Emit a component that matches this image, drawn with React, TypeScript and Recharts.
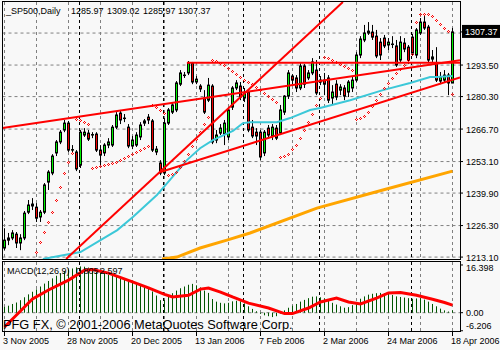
import { Bar, CartesianGrid, ComposedChart, Line, Scatter, XAxis, YAxis } from 'recharts'

// S&P 500 daily, 3 Nov 2005 - 18 Apr 2006 (one entry per trading day)
const opens = [
  1216.9, 1221.1, 1221.1, 1222.7, 1219.0, 1221.1, 1231.9, 1235.3, 1234.0, 1229.9,
  1231.9, 1244.5, 1248.3, 1256.7, 1261.3, 1266.3, 1269.2, 1257.9, 1257.1, 1251.6,
  1264.2, 1265.0, 1264.2, 1264.6, 1257.9, 1256.7, 1260.0, 1260.0, 1267.5, 1273.4,
  1271.3, 1267.5, 1259.6, 1260.0, 1263.4, 1269.2, 1271.7, 1270.1, 1257.1, 1252.5,
  1248.3, 1269.2, 1273.8, 1274.7, 1285.5, 1289.3, 1290.2, 1294.3, 1286.4, 1284.7,
  1279.7, 1278.8, 1284.7, 1262.1, 1265.0, 1264.6, 1263.4, 1275.9, 1283.9, 1284.7,
  1279.7, 1282.2, 1267.5, 1265.4, 1265.4, 1256.7, 1267.1, 1263.8, 1267.1, 1265.0,
  1273.8, 1280.5, 1288.9, 1288.1, 1283.9, 1293.1, 1288.1, 1290.2, 1291.4, 1286.4,
  1287.2, 1288.1, 1279.7, 1285.5, 1283.0, 1283.9, 1282.2, 1283.9, 1287.2, 1297.7,
  1304.0, 1306.9, 1307.3, 1305.6, 1303.1, 1304.8, 1301.9, 1302.3, 1301.5, 1295.6,
  1302.7, 1301.0, 1305.2, 1297.7, 1306.9, 1311.5, 1309.4, 1296.0, 1294.3, 1286.8,
  1287.2, 1289.3, 1285.97,
]
const highs = [
  1225.2, 1223.2, 1224.4, 1223.6, 1222.7, 1232.4, 1237.0, 1237.8, 1235.7, 1232.8,
  1244.1, 1249.5, 1256.2, 1262.1, 1266.3, 1270.5, 1270.1, 1260.0, 1257.9, 1266.3,
  1267.1, 1266.3, 1265.4, 1265.4, 1260.0, 1260.8, 1262.9, 1268.4, 1273.8, 1274.7,
  1273.0, 1268.8, 1263.8, 1265.4, 1269.6, 1270.9, 1273.0, 1270.9, 1259.6, 1253.7,
  1271.3, 1275.5, 1278.0, 1286.8, 1291.4, 1290.6, 1295.2, 1294.8, 1288.9, 1285.5,
  1283.0, 1288.1, 1285.5, 1266.3, 1268.8, 1270.5, 1275.9, 1284.7, 1287.2, 1286.4,
  1283.9, 1283.0, 1270.5, 1267.1, 1266.3, 1266.3, 1268.4, 1268.8, 1268.4, 1276.8,
  1280.9, 1291.4, 1289.7, 1289.3, 1294.3, 1293.9, 1291.4, 1296.4, 1295.6, 1288.9,
  1290.2, 1289.3, 1285.1, 1287.2, 1285.5, 1285.1, 1287.2, 1288.5, 1298.9, 1305.6,
  1310.3, 1311.5, 1310.3, 1308.2, 1304.8, 1306.1, 1304.8, 1305.6, 1304.0, 1305.6,
  1304.8, 1301.9, 1306.5, 1309.0, 1313.2, 1314.0, 1310.3, 1299.8, 1301.0, 1290.6,
  1291.4, 1290.2, 1309.02,
]
const lows = [
  1216.0, 1218.1, 1220.2, 1216.9, 1216.0, 1220.2, 1231.1, 1232.8, 1227.8, 1227.8,
  1231.1, 1241.2, 1247.4, 1255.4, 1260.4, 1265.4, 1257.1, 1256.7, 1249.1, 1250.4,
  1263.4, 1261.7, 1262.9, 1257.1, 1251.2, 1255.4, 1258.7, 1259.2, 1266.7, 1268.8,
  1269.6, 1258.7, 1258.3, 1259.2, 1262.1, 1268.0, 1268.8, 1257.1, 1255.8, 1247.4,
  1247.4, 1268.4, 1273.0, 1273.8, 1284.7, 1288.1, 1289.3, 1285.5, 1285.5, 1282.2,
  1273.0, 1278.0, 1260.4, 1260.8, 1264.2, 1260.0, 1262.1, 1274.7, 1283.0, 1278.8,
  1278.0, 1265.4, 1262.9, 1260.0, 1253.7, 1255.4, 1262.9, 1262.1, 1262.1, 1264.2,
  1272.6, 1279.3, 1285.5, 1282.2, 1283.0, 1283.9, 1287.2, 1289.3, 1280.9, 1285.1,
  1280.9, 1277.6, 1276.8, 1278.8, 1280.9, 1278.8, 1280.1, 1282.2, 1286.4, 1296.4,
  1303.1, 1306.1, 1304.0, 1296.4, 1295.6, 1300.6, 1299.8, 1300.6, 1292.7, 1294.8,
  1298.9, 1293.9, 1297.3, 1296.4, 1306.1, 1308.2, 1294.3, 1294.8, 1286.4, 1285.5,
  1286.4, 1280.9, 1285.97,
]
const closes = [
  1220.2, 1220.2, 1223.2, 1219.0, 1221.1, 1231.5, 1234.9, 1234.5, 1229.4, 1231.9,
  1243.3, 1248.7, 1255.4, 1261.3, 1265.4, 1269.2, 1257.9, 1258.1, 1250.0, 1265.4,
  1265.4, 1262.5, 1264.4, 1257.9, 1255.8, 1260.0, 1261.3, 1267.5, 1272.6, 1270.5,
  1271.1, 1259.6, 1262.1, 1264.2, 1268.4, 1270.1, 1270.5, 1257.9, 1258.3, 1248.3,
  1269.2, 1274.7, 1276.8, 1286.0, 1290.2, 1289.1, 1294.3, 1286.4, 1287.6, 1283.5,
  1273.8, 1285.1, 1261.3, 1264.2, 1267.1, 1269.2, 1274.7, 1283.9, 1286.0, 1280.1,
  1281.8, 1266.3, 1263.8, 1263.8, 1255.0, 1265.4, 1264.2, 1267.5, 1262.9, 1274.7,
  1280.5, 1290.2, 1287.2, 1283.9, 1293.1, 1285.5, 1290.2, 1294.8, 1281.8, 1287.2,
  1285.5, 1278.8, 1282.2, 1280.1, 1284.3, 1280.5, 1286.4, 1287.2, 1297.7, 1304.4,
  1306.9, 1307.7, 1305.2, 1297.3, 1297.7, 1301.5, 1303.1, 1302.1, 1293.5, 1303.1,
  1300.2, 1295.6, 1298.5, 1308.2, 1311.5, 1309.0, 1295.6, 1296.9, 1287.2, 1288.5,
  1289.3, 1286.0, 1307.37,
]
// Parabolic SAR (null = below the visible range)
const sar = [
  null, null, null, null, null, null, null, null, 1214.8, 1219.0,
  1223.2, 1227.3, 1231.5, 1236.6, 1242.0, 1247.9, 1252.5, 1256.2, 1270.5, 1270.1,
  1269.2, 1268.4, 1250.0, 1250.4, 1250.8, 1251.2, 1251.6, 1252.0, 1252.5, 1253.3,
  1254.1, 1255.0, 1255.8, 1256.7, 1257.5, 1258.3, 1259.2, 1276.3, 1275.5, 1274.2,
  1273.0, 1247.0, 1247.4, 1248.3, 1250.4, 1252.9, 1255.8, 1259.2, 1262.1, 1265.0,
  1268.4, 1271.3, 1295.2, 1294.8, 1293.9, 1293.1, 1291.8, 1290.6, 1289.3, 1288.1,
  1286.8, 1286.0, 1285.1, 1283.9, 1282.6, 1281.4, 1280.1, 1278.8, 1277.6, 1254.6,
  1255.0, 1255.8, 1257.9, 1259.6, 1262.5, 1265.9, 1269.2, 1272.6, 1276.3, 1279.3,
  1296.4, 1296.0, 1295.2, 1294.3, 1293.5, 1292.7, 1291.8, 1291.0, 1270.5, 1270.9,
  1271.7, 1273.4, 1275.9, 1278.4, 1280.9, 1283.5, 1285.5, 1287.6, 1289.7, 1291.4,
  1293.1, 1295.2, 1297.7, 1311.1, 1314.4, 1314.4, 1314.4, 1313.6, 1311.9, 1310.3,
  1308.6, 1307.3, 1280.9,
]
// MACD(12,26,9) main histogram
const macdMain = [
  2.0, 2.4, 3.0, 3.5, 4.3, 5.3, 6.3, 7.2, 8.0, 9.0,
  10.0, 10.9, 11.8, 12.7, 13.5, 14.3, 14.8, 15.2, 15.6, 15.9,
  15.8, 15.5, 15.1, 14.6, 14.1, 13.6, 13.1, 12.8, 12.4, 12.0,
  11.3, 10.9, 10.4, 9.9, 9.4, 8.9, 8.2, 7.3, 5.9, 4.3,
  4.4, 5.6, 6.7, 7.6, 8.4, 9.0, 9.6, 9.9, 9.4, 8.7,
  7.6, 6.8, 4.7, 3.8, 3.4, 3.2, 3.4, 3.9, 4.1, 3.9,
  3.2, 2.2, 1.3, 0.5, -0.4, -0.9, -1.2, -1.5, -1.2, -0.3,
  0.8, 1.7, 2.4, 3.0, 3.8, 4.4, 5.0, 5.5, 5.6, 5.3,
  4.9, 4.1, 3.4, 2.8, 2.2, 1.7, 1.9, 2.6, 3.7, 4.8,
  5.6, 6.2, 6.5, 6.7, 6.8, 6.7, 6.4, 6.1, 5.6, 5.4,
  5.2, 5.0, 4.8, 4.9, 5.0, 4.5, 3.8, 3.0, 2.2, 1.4,
  0.8, 0.4, 0.805,
]
// MACD signal line, read at [bar, value]
const macdSignal = [
  [0, -4.9], [3, -0.8], [7, 4.7], [11, 7.8], [16, 11.2], [20, 14.6], [22, 14.8],
  [26, 13.6], [32, 10.6], [36, 8.5], [40, 6.3], [42, 5.4], [46, 6.0], [49, 8.1],
  [51, 8.5], [54, 7.1], [57, 5.4], [61, 3.3], [66, 1.6], [70, -0.3], [72, -0.3],
  [76, 1.6], [79, 3.7], [83, 5.0], [86, 3.7], [89, 3.0], [93, 5.0], [96, 6.8],
  [99, 6.9], [103, 6.0], [107, 4.6], [110, 3.5], [112, 2.6],
]
const cyanMa = [
  [9.6, 1212.3], [19, 1215.2], [24, 1220.2], [28.2, 1224.4], [32.1, 1229.9],
  [38.1, 1239.1], [39.6, 1242.0], [45.6, 1253.7], [48.9, 1258.7], [52.1, 1262.1],
  [57.1, 1265.9], [59.6, 1269.2], [61.4, 1269.6], [68.1, 1269.6], [71.4, 1271.3],
  [76.4, 1274.7], [78.9, 1275.5], [86.4, 1278.8], [94.6, 1283.0], [101.4, 1286.0],
  [106.4, 1288.5], [108.1, 1288.5], [112, 1288.9],
]
const orangeMa = [
  [39.4, 1212.3], [43.1, 1213.1], [48.9, 1216.9], [55.6, 1220.2], [61.4, 1223.2],
  [78.1, 1233.6], [94.6, 1241.2], [112, 1249.1],
]
const trendUpper = [[-0.5, 1267.1], [113.875, 1295.5]]
const trendLower = [[39, 1248.7], [113.875, 1288.3]]
const trendSteep = [[15.4, 1212.3], [84.6, 1319.9]]
const resistance = [[45.6, 1294.5], [113.875, 1294.5]]

const dateLabels = ['3 Nov 2005', '28 Nov 2005', '20 Dec 2005', '13 Jan 2006', '7 Feb 2006', '2 Mar 2006', '24 Mar 2006', '18 Apr 2006']
const labelBars = [0, 16, 32, 48, 64, 80, 96, 112]
const gridBars = [0, 8, 16, 24, 32, 40, 48, 56, 64, 72, 80, 88, 96, 104, 112]
const monthBreaks = [18.75, 39.75, 59.75, 78.75, 101.75]
const priceTicks = [1213.1, 1226.3, 1239.9, 1253.1, 1266.7, 1280.3, 1293.5, 1307.37]
const priceGrid = [1213.1, 1226.3, 1239.9, 1253.1, 1266.7, 1280.3, 1293.5, 1306.9]
const lastPrice = 1307.37
const macdTicks = [16.398, 0, -6.206]
const macdTickText = ['16.398', '0.00', '-6.206']

const FONT = "'Liberation Sans', Arial, sans-serif"
const X_DOMAIN = [-0.5, 113.875]

const rows = opens.map((o, i) => ({
  i,
  o,
  h: highs[i],
  l: lows[i],
  c: closes[i],
  range: [lows[i], highs[i]],
  m: macdMain[i],
}))
const pts = (list: number[][]) => list.map(([i, v]) => ({ i, v }))
const sarRows = sar
  .map((v, i) => ({ i, v }))
  .filter((d) => d.v !== null)

const Candle = (props: any) => {
  const { x, y, width, height, payload } = props
  const { o, h, l, c } = payload
  const cx = Math.floor(x + width / 2 + 0.25) + 0.5
  const k = height / (h - l || 1)
  const top = y + (h - Math.max(o, c)) * k
  const bot = y + (h - Math.min(o, c)) * k
  const up = c >= o
  return (
    <g>
      <line x1={cx} x2={cx} y1={y} y2={y + height} stroke="#000" />
      <rect
        x={cx - 1}
        y={top}
        width={2}
        height={Math.max(bot - top, 0.01)}
        fill={up ? '#00f000' : '#f00000'}
        stroke="#000"
      />
    </g>
  )
}

const HistBar = (props: any) => {
  const { x, y, width, height } = props
  const cx = Math.floor(x + width / 2 + 0.25)
  return (
    <rect
      x={cx}
      y={Math.min(y, y + height)}
      width={1}
      height={Math.abs(height)}
      fill="#005500"
    />
  )
}

const SarDot = (props: any) => {
  const { cx, cy } = props
  const px = Math.floor(cx + 0.25)
  const py = Math.round(cy)
  return (
    <g fill="#ff0000">
      <rect x={px} y={py - 2} width={1} height={1} />
      <rect x={px + 1} y={py - 1} width={1} height={1} />
      <rect x={px} y={py} width={1} height={1} />
      <rect x={px - 1} y={py - 1} width={1} height={1} />
    </g>
  )
}

const PriceTick = (props: any) => {
  const { y, payload } = props
  const v = payload.value
  if (v === lastPrice) {
    return (
      <g>
        <rect x={462} y={y - 7} width={38} height={13} fill="#000" />
        <text x={465} y={y + 3.5} fill="#fff" fontSize={9} fontFamily={FONT}>
          {v.toFixed(2)}
        </text>
      </g>
    )
  }
  return (
    <text x={466} y={y + 3.5} fill="#000" fontSize={9} fontFamily={FONT}>
      {v.toFixed(2)}
    </text>
  )
}

const MacdTick = (props: any) => {
  const { y, payload } = props
  const idx = macdTicks.indexOf(payload.value)
  const dy = idx === 0 ? 6.2 : idx === 2 ? -1.6 : 3.3
  return (
    <text x={466} y={y + dy} fill="#000" fontSize={9} fontFamily={FONT}>
      {macdTickText[idx]}
    </text>
  )
}

const DateTick = (props: any) => {
  const { x, payload } = props
  const idx = labelBars.indexOf(payload.value)
  return (
    <text x={x - 1.5} y={84} fill="#000" fontSize={9} fontFamily={FONT}>
      {dateLabels[idx]}
    </text>
  )
}

export default function App() {
  const bar = rows[rows.length - 1]
  return (
    <div
      style={{
        position: 'absolute',
        left: 0,
        top: 0,
        width: 500,
        height: 350,
        background: '#f8f8f8',
        overflow: 'hidden',
      }}
    >
      <div style={{ position: 'absolute', left: 0, top: 0 }}>
        <ComposedChart
          width={500}
          height={266}
          data={rows}
          margin={{ top: 2, right: 0, bottom: 7, left: 2.5 }}
        >
          <CartesianGrid
            horizontalValues={priceGrid}
            verticalValues={gridBars}
            stroke="#808080"
            strokeDasharray="3 3"
          />
          <CartesianGrid
            horizontal={false}
            verticalValues={monthBreaks}
            stroke="#000"
            strokeDasharray="3 3"
          />
          <XAxis
            type="number"
            dataKey="i"
            domain={X_DOMAIN}
            allowDataOverflow
            hide
          />
          <YAxis
            orientation="right"
            width={40}
            domain={[1212.3, 1319.9]}
            allowDataOverflow
            ticks={priceTicks}
            interval={0}
            tick={PriceTick}
            tickSize={3}
            tickLine={{ stroke: '#000' }}
            axisLine={false}
          />
          <Line
            data={pts(cyanMa)}
            dataKey="v"
            stroke="#3cc8d8"
            strokeWidth={2}
            dot={false}
            isAnimationActive={false}
          />
          <Line
            data={pts(orangeMa)}
            dataKey="v"
            stroke="#ffa500"
            strokeWidth={3}
            dot={false}
            isAnimationActive={false}
          />
          <Scatter
            data={sarRows}
            dataKey="v"
            shape={SarDot}
            isAnimationActive={false}
          />
          <Bar
            dataKey="range"
            barSize={3}
            shape={Candle}
            isAnimationActive={false}
          />
          {[trendUpper, trendLower, trendSteep, resistance].map((t, k) => (
            <Line
              key={k}
              data={pts(t)}
              dataKey="v"
              stroke="#ff0000"
              strokeWidth={2}
              dot={false}
              isAnimationActive={false}
            />
          ))}
        </ComposedChart>
      </div>
      <div style={{ position: 'absolute', left: 0, top: 260 }}>
        <ComposedChart
          width={500}
          height={90}
          data={rows}
          margin={{ top: 2, right: 0, bottom: 0, left: 2.5 }}
        >
          <CartesianGrid
            horizontalValues={[0]}
            verticalValues={gridBars}
            stroke="#808080"
            strokeDasharray="3 3"
          />
          <CartesianGrid
            horizontal={false}
            verticalValues={monthBreaks}
            stroke="#000"
            strokeDasharray="3 3"
          />
          <XAxis
            type="number"
            dataKey="i"
            domain={X_DOMAIN}
            allowDataOverflow
            ticks={labelBars}
            interval={0}
            height={19}
            tick={DateTick}
            tickSize={5}
            tickLine={{ stroke: '#000' }}
            axisLine={false}
          />
          <YAxis
            orientation="right"
            width={40}
            domain={[-6.29, 17.42]}
            allowDataOverflow
            ticks={macdTicks}
            interval={0}
            tick={MacdTick}
            tickSize={3}
            tickLine={{ stroke: '#000' }}
            axisLine={false}
          />
          <Bar dataKey="m" barSize={1} shape={HistBar} isAnimationActive={false} />
          <Line
            data={pts(macdSignal)}
            dataKey="v"
            stroke="#ff0000"
            strokeWidth={3}
            dot={false}
            isAnimationActive={false}
          />
        </ComposedChart>
      </div>
      <svg
        width={500}
        height={350}
        style={{ position: 'absolute', left: 0, top: 0, pointerEvents: 'none' }}
        fontFamily={FONT}
      >
        <rect x={2.5} y={1.5} width={458} height={258} fill="none" stroke="#000" />
        <rect x={2.5} y={261.5} width={458} height={70} fill="none" stroke="#000" />
        <text x={6} y={14} fontSize={9} fill="#000">_SP500,Daily</text>
        <text x={71} y={14} fontSize={9} fill="#000">{bar.o.toFixed(2)}</text>
        <text x={107} y={14} fontSize={9} fill="#000">{bar.h.toFixed(2)}</text>
        <text x={143} y={14} fontSize={9} fill="#000">{bar.l.toFixed(2)}</text>
        <text x={178} y={14} fontSize={9} fill="#000">{bar.c.toFixed(2)}</text>
        <text x={7} y={274} fontSize={9} fill="#000">MACD(12,26,9)</text>
        <text x={76} y={274} fontSize={9} fill="#000">{macdMain[macdMain.length - 1].toFixed(3)}</text>
        <text x={100} y={274} fontSize={9} fill="#000">2.597</text>
        <text x={3} y={329} fontSize={12.8} fill="#000">
          PFG FX, © 2001-2006 MetaQuotes Software Corp.
        </text>
      </svg>
    </div>
  )
}
